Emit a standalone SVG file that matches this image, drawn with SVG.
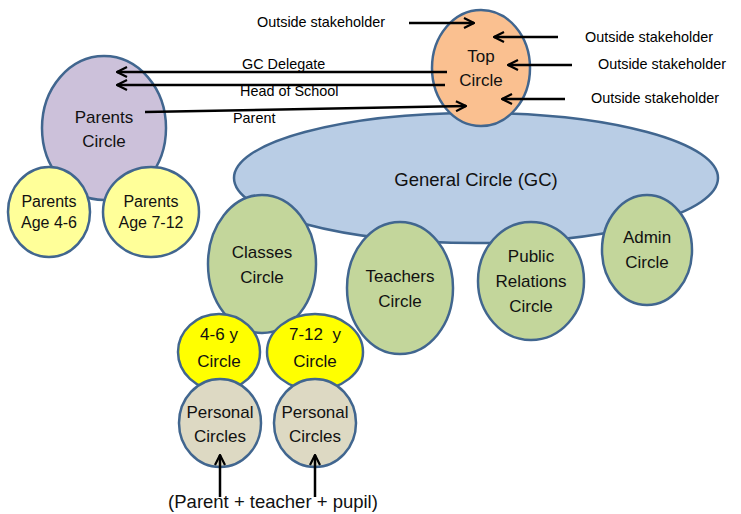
<svg xmlns="http://www.w3.org/2000/svg" width="741" height="514" viewBox="0 0 741 514">
<defs>
<marker id="ah" viewBox="0 0 12 12" refX="11" refY="6" markerWidth="12" markerHeight="12" markerUnits="userSpaceOnUse" orient="auto">
<path d="M1,1 L11,6 L1,11" fill="none" stroke="#000" stroke-width="2.2"/>
</marker>
<style>
.n{stroke:#41668F;stroke-width:2.5}
.t{font-family:"Liberation Sans",Arial,sans-serif;font-size:17px;fill:#111;text-anchor:middle}
.s{font-family:"Liberation Sans",Arial,sans-serif;font-size:14.4px;fill:#000}
.c{stroke:#000;stroke-width:2.5;fill:none;marker-end:url(#ah)}
</style>
</defs>
<rect width="741" height="514" fill="#fff"/>
<g id="general-circle"><ellipse class="n" cx="476" cy="178" rx="242" ry="65" fill="#B9CDE5"/><text class="t" x="476" y="186" style="font-size:18.5px">General Circle (GC)</text></g>
<g id="top-circle"><ellipse class="n" cx="481" cy="68" rx="49" ry="58" fill="#FAC090"/><text class="t" x="481" y="62">Top</text><text class="t" x="481" y="86">Circle</text></g>
<g id="parents-circle"><ellipse class="n" cx="104" cy="128" rx="62" ry="72" fill="#CCC1DA"/><text class="t" x="104" y="123">Parents</text><text class="t" x="104" y="147">Circle</text></g>
<g id="parents-4-6"><ellipse class="n" cx="49" cy="212" rx="41" ry="45" fill="#FFFF99"/><text class="t" x="49" y="207" style="font-size:16px">Parents</text><text class="t" x="49" y="228" style="font-size:16px">Age 4-6</text></g>
<g id="parents-7-12"><ellipse class="n" cx="151" cy="212" rx="48" ry="45" fill="#FFFF99"/><text class="t" x="151" y="207" style="font-size:16px">Parents</text><text class="t" x="151" y="228" style="font-size:16px">Age 7-12</text></g>
<g id="classes-circle"><ellipse class="n" cx="262" cy="264" rx="54" ry="69" fill="#C3D69B"/><text class="t" x="262" y="258">Classes</text><text class="t" x="262" y="283">Circle</text></g>
<g id="teachers-circle"><ellipse class="n" cx="400" cy="288" rx="53" ry="66" fill="#C3D69B"/><text class="t" x="400" y="282">Teachers</text><text class="t" x="400" y="307">Circle</text></g>
<g id="pr-circle"><ellipse class="n" cx="531" cy="281" rx="53" ry="59" fill="#C3D69B"/><text class="t" x="531" y="262">Public</text><text class="t" x="531" y="287">Relations</text><text class="t" x="531" y="312">Circle</text></g>
<g id="admin-circle"><ellipse class="n" cx="647" cy="250" rx="45" ry="55" fill="#C3D69B"/><text class="t" x="647" y="243">Admin</text><text class="t" x="647" y="268">Circle</text></g>
<g id="y4-6-circle"><ellipse class="n" cx="219" cy="352" rx="41" ry="38" fill="#FFFF00"/><text class="t" x="219" y="340">4-6 y</text><text class="t" x="219" y="367">Circle</text></g>
<g id="y7-12-circle"><ellipse class="n" cx="315" cy="352" rx="48" ry="38" fill="#FFFF00"/><text class="t" x="315" y="340" xml:space="preserve">7-12  y</text><text class="t" x="315" y="367">Circle</text></g>
<g id="personal-1"><ellipse class="n" cx="220" cy="423" rx="41" ry="44" fill="#DDD9C3"/><text class="t" x="220" y="418">Personal</text><text class="t" x="220" y="442">Circles</text></g>
<g id="personal-2"><ellipse class="n" cx="315" cy="423" rx="41" ry="44" fill="#DDD9C3"/><text class="t" x="315" y="418">Personal</text><text class="t" x="315" y="442">Circles</text></g>
<g id="connectors">
<line class="c" x1="409" y1="23" x2="474" y2="23"/>
<line class="c" x1="558" y1="37" x2="494" y2="37"/>
<line class="c" x1="572" y1="65" x2="508" y2="65"/>
<line class="c" x1="565" y1="99" x2="502" y2="99"/>
<line class="c" x1="447" y1="72" x2="117" y2="72"/>
<line class="c" x1="445" y1="85" x2="117" y2="85"/>
<line class="c" x1="145" y1="112" x2="466" y2="106"/>
<line class="c" x1="220" y1="497" x2="220" y2="455"/>
<line class="c" x1="315" y1="497" x2="315" y2="455"/>
</g>
<g id="labels">
<text class="s" x="257" y="27">Outside stakeholder</text>
<text class="s" x="585" y="42">Outside stakeholder</text>
<text class="s" x="598" y="69">Outside stakeholder</text>
<text class="s" x="591" y="103">Outside stakeholder</text>
<text class="s" x="242" y="69">GC Delegate</text>
<text class="s" x="240" y="96">Head of School</text>
<text class="s" x="233" y="123">Parent</text>
<text class="t" x="273" y="508" style="font-size:18.5px">(Parent + teacher + pupil)</text>
</g>
</svg>
